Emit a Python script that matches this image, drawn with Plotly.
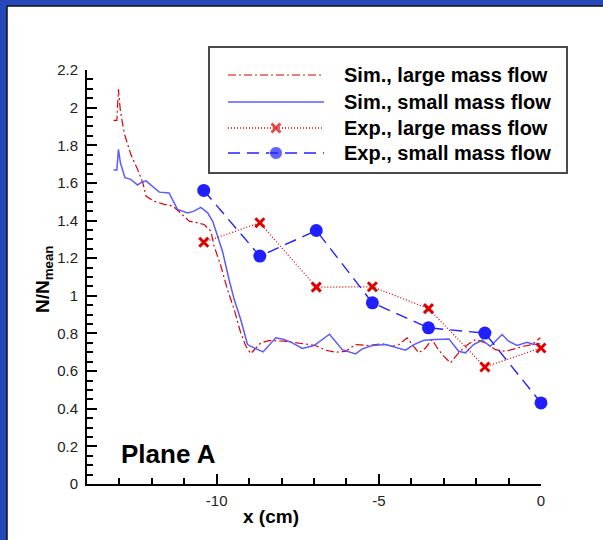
import plotly.graph_objects as go

# ---------------- data ----------------
sim_large_x = [-13.18, -13.08, -13.03, -13.00, -12.97, -12.85, -12.65, -12.44, -12.28, -12.18,
               -11.93, -11.62, -11.35, -11.10, -10.85, -10.59, -10.39, -10.18, -10.08, -9.87,
               -9.67, -9.46, -9.26, -9.10, -8.95, -8.64, -8.39, -7.92, -7.56, -7.26,
               -6.95, -6.64, -6.33, -6.03, -5.72, -5.31, -4.90, -4.59, -4.38, -4.13,
               -3.92, -3.77, -3.56, -3.36, -3.20, -3.00, -2.79, -2.54, -2.33, -2.02,
               -1.71, -1.41, -1.10, -0.84, -0.54, -0.28, -0.02]
sim_large_y = [1.932, 1.932, 2.097, 2.044, 1.982, 1.863, 1.752, 1.672, 1.601, 1.530,
               1.503, 1.486, 1.477, 1.438, 1.397, 1.388, 1.379, 1.344, 1.264, 1.157,
               1.034, 0.927, 0.803, 0.732, 0.693, 0.750, 0.762, 0.759, 0.750, 0.741,
               0.736, 0.711, 0.700, 0.705, 0.741, 0.736, 0.746, 0.732, 0.741, 0.777,
               0.732, 0.697, 0.723, 0.768, 0.723, 0.679, 0.644, 0.697, 0.732, 0.768,
               0.750, 0.714, 0.705, 0.718, 0.732, 0.741, 0.777]

sim_small_x = [-13.18, -13.08, -13.03, -12.97, -12.83, -12.65, -12.44, -12.34, -12.18, -12.00,
               -11.77, -11.47, -11.21, -10.90, -10.70, -10.49, -10.28, -10.12, -9.98, -9.82,
               -9.62, -9.46, -9.26, -9.16, -9.05, -8.85, -8.57, -8.18, -7.92, -7.67,
               -7.36, -7.00, -6.52, -6.13, -5.72, -5.51, -5.20, -4.79, -4.54, -4.18,
               -3.92, -3.61, -3.25, -2.84, -2.54, -2.33, -2.08, -1.82, -1.56, -1.20,
               -1.00, -0.74, -0.43, -0.23, -0.02]
sim_small_y = [1.668, 1.668, 1.778, 1.707, 1.628, 1.619, 1.589, 1.601, 1.611, 1.583,
               1.551, 1.547, 1.459, 1.440, 1.450, 1.470, 1.441, 1.395, 1.317, 1.236,
               1.087, 0.980, 0.874, 0.803, 0.741, 0.723, 0.702, 0.777, 0.768, 0.750,
               0.720, 0.736, 0.796, 0.714, 0.691, 0.718, 0.736, 0.741, 0.729, 0.711,
               0.741, 0.764, 0.768, 0.771, 0.705, 0.697, 0.741, 0.764, 0.732, 0.794,
               0.759, 0.736, 0.753, 0.741, 0.746]

exp_x = [-10.4, -8.67, -6.93, -5.2, -3.47, -1.73, 0.0]
exp_large_y = [1.285, 1.388, 1.046, 1.048, 0.932, 0.622, 0.723]
exp_small_y = [1.560, 1.211, 1.347, 0.963, 0.830, 0.802, 0.431]

series_names = ["Sim., large mass flow", "Sim., small mass flow",
                "Exp., large mass flow", "Exp., small mass flow"]

x_tickvals = [-10, -5, 0]
x_ticktext = ["-10", "-5", "0"]
y_tickvals = [0, 0.2, 0.4, 0.6, 0.8, 1.0, 1.2, 1.4, 1.6, 1.8, 2.0, 2.2]
y_ticktext = ["0", "0.2", "0.4", "0.6", "0.8", "1", "1.2", "1.4", "1.6", "1.8", "2", "2.2"]

# ---------------- styles ----------------
RED = "#e00000"
BLUE_SIM = "#5b5bff"
BLUE_EXP = "#2020ff"
styles = [
    dict(line=dict(color=RED, width=1.2, dash="8px,3px,2px,3px"), mode="lines"),
    dict(line=dict(color=BLUE_SIM, width=1.5), mode="lines"),
    dict(line=dict(color=RED, width=1.3, dash="1px,2px"), mode="lines+markers",
         marker=dict(symbol="x-thin", size=9, color="#e00000",
                     line=dict(width=3, color="#e00000"))),
    dict(line=dict(color=BLUE_EXP, width=1.4, dash="12px,7px"), mode="lines+markers",
         marker=dict(symbol="circle", size=13, color=BLUE_EXP)),
]

W, H = 603, 540
L, R, T, B = 87, 62, 70, 56
PW, PH = W - L - R, H - T - B
FONT = "Liberation Sans, Arial"


def px2paper(px, py):
    return (px - L) / PW, (H - B - py) / PH


fig = go.Figure()
data = [(sim_large_x, sim_large_y), (sim_small_x, sim_small_y),
        (exp_x, exp_large_y), (exp_x, exp_small_y)]
for (xs, ys), st, nm in zip(data, styles, series_names):
    fig.add_trace(go.Scatter(x=xs, y=ys, name=nm, showlegend=False, cliponaxis=False, **st))

# ---------------- manual legend (pixel-coordinate overlay axes) ----------------
leg_rows = [75, 102, 128, 153]
leg_x0, leg_x1 = 228, 324
for row, st, nm in zip(leg_rows, styles, series_names):
    s = dict(st)
    if "marker" in s:
        m = dict(s["marker"])
        m["size"] = [0, m["size"], 0]
        s["marker"] = m
    fig.add_trace(go.Scatter(x=[leg_x0, (leg_x0 + leg_x1) / 2, leg_x1], y=[row, row, row],
                             xaxis="x2", yaxis="y2", showlegend=False, hoverinfo="skip", **s))

shapes = []
# white page area inside blue frame
x0, y1 = px2paper(7, 6)
shapes.append(dict(type="rect", xref="paper", yref="paper", x0=x0, x1=1.3, y0=-0.3, y1=y1,
                   fillcolor="white", line=dict(width=0), layer="below"))
shapes.append(dict(type="line", xref="paper", yref="paper", x0=x0, x1=1.3, y0=y1, y1=y1,
                   line=dict(color="#111", width=1.5), layer="below"))
shapes.append(dict(type="line", xref="paper", yref="paper", x0=x0, x1=x0, y0=-0.3, y1=y1,
                   line=dict(color="#111", width=1.5), layer="below"))
# legend box
bx0, by0 = px2paper(209, 173)
bx1, by1 = px2paper(567, 47)
shapes.append(dict(type="rect", xref="paper", yref="paper", x0=bx0, x1=bx1, y0=by0, y1=by1,
                   fillcolor="white", line=dict(color="#4a4a4a", width=2), layer="below"))

annotations = []
for row, nm in zip(leg_rows, series_names):
    ax, ay = px2paper(342, row)
    annotations.append(dict(text=nm, xref="paper", yref="paper", x=ax, y=ay, xanchor="left",
                            yanchor="middle", showarrow=False,
                            font=dict(family=FONT, size=20, color="black", weight="bold")))
# axis titles and plane label
tx, ty = px2paper(271, 516)
annotations.append(dict(text="x (cm)", xref="paper", yref="paper", x=tx, y=ty, xanchor="center",
                        yanchor="middle", showarrow=False,
                        font=dict(family=FONT, size=19, color="black", weight="bold")))
yx, yy = px2paper(44, 280)
annotations.append(dict(text="N/N<sub>mean</sub>", xref="paper", yref="paper", x=yx, y=yy,
                        xanchor="center", yanchor="middle", textangle=-90, showarrow=False,
                        font=dict(family=FONT, size=19, color="black", weight="bold")))
pxx, pyy = px2paper(168, 454)
annotations.append(dict(text="Plane A", xref="paper", yref="paper", x=pxx, y=pyy, xanchor="center",
                        yanchor="middle", showarrow=False,
                        font=dict(family=FONT, size=26, color="black", weight="bold")))

axis_common = dict(showgrid=False, zeroline=False, showline=True, linecolor="black", linewidth=2,
                   ticks="inside", ticklen=10, tickwidth=2, tickcolor="black", mirror=False,
                   tickfont=dict(family=FONT, size=15, color="#222"))

fig.update_layout(
    width=W, height=H,
    margin=dict(l=L, r=R, t=T, b=B, pad=0),
    paper_bgcolor="#2549b8",
    plot_bgcolor="rgba(0,0,0,0)",
    showlegend=False,
    xaxis=dict(range=[-14, 0], tickmode="array", tickvals=x_tickvals, ticktext=x_ticktext,
               minor=dict(ticks="inside", ticklen=6, tickwidth=1.5, tickcolor="black",
                          tickmode="linear", tick0=0, dtick=1, showgrid=False),
               ticklabelstandoff=2, **axis_common),
    yaxis=dict(range=[0, 2.2], tickmode="array", tickvals=y_tickvals, ticktext=y_ticktext,
               minor=dict(ticks="inside", ticklen=6, tickwidth=1.5, tickcolor="black",
                          tickmode="linear", tick0=0, dtick=0.05, showgrid=False),
               ticklabelstandoff=4, **axis_common),
    xaxis2=dict(overlaying="x", range=[L, W - R], visible=False, fixedrange=True),
    yaxis2=dict(overlaying="y", range=[H - B, T], visible=False, fixedrange=True),
    shapes=shapes,
    annotations=annotations,
)

fig.write_html("out.html")
